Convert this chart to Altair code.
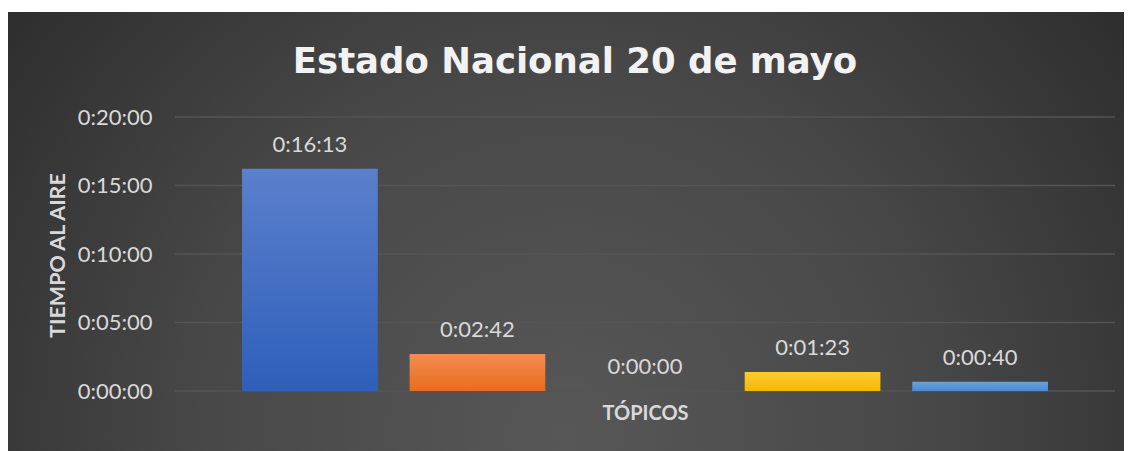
import altair as alt
import pandas as pd

# ---- data ----
topics = ["Tópico 1", "Tópico 2", "Tópico 3", "Tópico 4", "Tópico 5"]
seconds = [973, 162, 0, 83, 40]          # 0:16:13, 0:02:42, 0:00:00, 0:01:23, 0:00:40
tick_seconds = [0, 300, 600, 900, 1200]  # 0:00:00 ... 0:20:00
bar_top = ["#5b80cc", "#f28c52", "#bdbdbd", "#ffcb33", "#66a3de"]
bar_bottom = ["#2e5fba", "#e86d1c", "#9a9a9a", "#f3b800", "#4a8bd2"]

title_text = "Estado Nacional 20 de mayo"
y_title = "TIEMPO AL AIRE"
x_title = "TÓPICOS"

df = pd.DataFrame({"topic": topics, "sec": seconds})
grid_df = pd.DataFrame({"sec": tick_seconds})
one = pd.DataFrame({"a": [0]})

W, H = 940, 274
FONT = "Lato"
fmt = ("floor(S/3600) + ':' + (floor((S%3600)/60) < 10 ? '0' : '') + floor((S%3600)/60)"
       " + ':' + (S%60 < 10 ? '0' : '') + (S%60)")

xenc = alt.X("topic:N", sort=topics,
             scale=alt.Scale(paddingInner=0.19, paddingOuter=0.4),
             axis=alt.Axis(labels=False, ticks=False, domain=False, grid=False,
                           title=x_title, titleFont=FONT, titleFontSize=20,
                           titleFontWeight="bold", titleColor="#d9d9d9",
                           titleX=W / 2, titleY=28, titleBaseline="alphabetic",
                           titleAnchor="middle", titleAlign="center", zindex=1))
yscale = alt.Scale(domain=[0, 1200], nice=False)

# background radial gradient
bg = alt.Chart(one).mark_rect(
    color=alt.RadialGradient(
        gradient="radial", x1=0.5, y1=0.68, r1=0, x2=0.5, y2=0.68, r2=0.72,
        stops=[alt.GradientStop(offset=0, color="#575757"),
               alt.GradientStop(offset=0.45, color="#484848"),
               alt.GradientStop(offset=1, color="#262626")])
).encode(x=alt.value(-167), x2=alt.value(949), y=alt.value(-105), y2=alt.value(340))

grid = alt.Chart(grid_df).mark_rule(color="#555555", strokeWidth=1.5).encode(
    x=alt.value(0), x2=alt.value(W),
    y=alt.Y("sec:Q", scale=yscale,
            axis=alt.Axis(values=tick_seconds, labelExpr=fmt.replace("S", "datum.value"),
                          labelFont=FONT, labelFontSize=22, labelColor="#d9d9d9",
                          labelPadding=23, ticks=False, domain=False, grid=False,
                          title=y_title, titleFont=FONT, titleFontSize=21.5,
                          titleFontWeight="bold", titleColor="#d9d9d9",
                          titleX=-117, titleY=138, titleBaseline="middle",
                          titleAlign="center", titleAngle=-90, zindex=1))
)

bars = []
for i, t in enumerate(topics):
    bars.append(
        alt.Chart(df).transform_filter(alt.datum.topic == t).mark_bar(
            color=alt.LinearGradient(
                gradient="linear", x1=0, y1=0, x2=0, y2=1,
                stops=[alt.GradientStop(offset=0, color=bar_top[i]),
                       alt.GradientStop(offset=1, color=bar_bottom[i])])
        ).encode(x=xenc, y=alt.Y("sec:Q", scale=yscale))
    )

labels = alt.Chart(df).transform_calculate(
    lab=fmt.replace("S", "datum.sec")
).mark_text(font=FONT, fontSize=22, color="#d9d9d9", baseline="alphabetic",
            align="center", dy=-17).encode(
    x=alt.X("topic:N", sort=topics), y=alt.Y("sec:Q", scale=yscale), text="lab:N")

title = alt.Chart(one).mark_text(
    text=title_text, font="DejaVu Sans", fontSize=35.5, fontWeight="bold",
    color="#f2f2f2", align="center", baseline="alphabetic"
).encode(x=alt.value(400), y=alt.value(-44))

chart = alt.layer(bg, grid, *bars, labels, title).properties(
    width=W, height=H,
    autosize=alt.AutoSizeParams(type="none"),
    padding={"left": 167, "top": 109, "right": 9, "bottom": 60},
    background="white",
).configure_view(stroke=None)

chart.save("out.html", embed_options={"renderer": "svg", "actions": False})
